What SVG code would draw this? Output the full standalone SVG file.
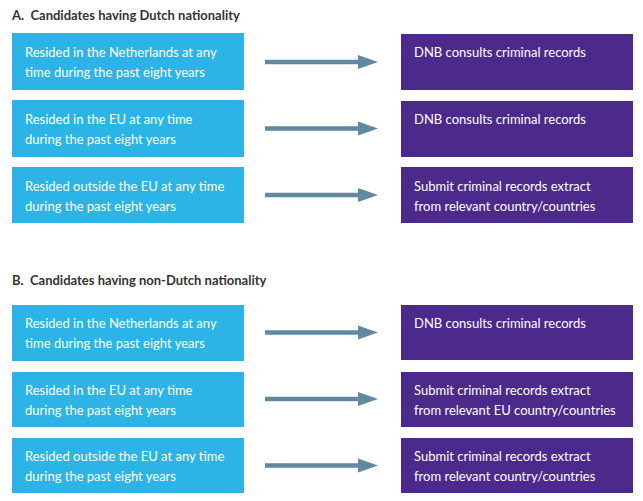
<svg xmlns="http://www.w3.org/2000/svg" width="643" height="501" viewBox="0 0 643 501">
<defs>
<style>
.bg{fill:#ffffff}
.left{fill:#2cb4e6}
.right{fill:#4b2a8c}
.t{font-family:Lato,"Noto Sans","Liberation Sans",sans-serif;font-size:13px;fill:#ffffff}
.h{font-family:Lato,"Noto Sans","Liberation Sans",sans-serif;font-size:13px;font-weight:bold;fill:#333333}
.arr{fill:#6189a2}
</style>
<symbol id="arrow" overflow="visible">
<path class="arr" d="M0,-2.3 H93 V-7 L113,0 L93,7 V2.3 H0 Z"/>
</symbol>
</defs>
<rect class="bg" width="643" height="501"/>
<text class="h" x="12" y="19.5" xml:space="preserve">A.  Candidates having Dutch nationality</text>
<text class="h" x="12" y="284.5" xml:space="preserve">B.  Candidates having non-Dutch nationality</text>

<g id="a1"><rect class="left" x="12" y="33" width="232" height="57"/><text class="t" x="25" y="57">Resided in the Netherlands at any</text><text class="t" x="25" y="77">time during the past eight years</text></g>
<g id="a2"><rect class="left" x="12" y="100" width="232" height="57"/><text class="t" x="25" y="124">Resided in the EU at any time</text><text class="t" x="25" y="144">during the past eight years</text></g>
<g id="a3"><rect class="left" x="12" y="167" width="232" height="56"/><text class="t" x="25" y="190.5">Resided outside the EU at any time</text><text class="t" x="25" y="210.5">during the past eight years</text></g>

<g id="ra1"><rect class="right" x="401" y="34" width="232" height="56"/><text class="t" x="414" y="57">DNB consults criminal records</text></g>
<g id="ra2"><rect class="right" x="401" y="101" width="232" height="56"/><text class="t" x="414" y="124">DNB consults criminal records</text></g>
<g id="ra3"><rect class="right" x="401" y="167" width="232" height="56"/><text class="t" x="414" y="190.5">Submit criminal records extract</text><text class="t" x="414" y="210.5">from relevant country/countries</text></g>

<g id="b1"><rect class="left" x="12" y="305" width="232" height="56"/><text class="t" x="25" y="328">Resided in the Netherlands at any</text><text class="t" x="25" y="348">time during the past eight years</text></g>
<g id="b2"><rect class="left" x="12" y="372" width="232" height="55"/><text class="t" x="25" y="394.5">Resided in the EU at any time</text><text class="t" x="25" y="414.5">during the past eight years</text></g>
<g id="b3"><rect class="left" x="12" y="438" width="232" height="55"/><text class="t" x="25" y="461">Resided outside the EU at any time</text><text class="t" x="25" y="481">during the past eight years</text></g>

<g id="rb1"><rect class="right" x="401" y="305" width="232" height="55"/><text class="t" x="414" y="328">DNB consults criminal records</text></g>
<g id="rb2"><rect class="right" x="401" y="372" width="232" height="55"/><text class="t" x="414" y="394.5">Submit criminal records extract</text><text class="t" x="414" y="414.5">from relevant EU country/countries</text></g>
<g id="rb3"><rect class="right" x="401" y="438" width="232" height="55"/><text class="t" x="414" y="461">Submit criminal records extract</text><text class="t" x="414" y="481">from relevant country/countries</text></g>

<g id="connectors">
<use href="#arrow" x="265" y="62"/>
<use href="#arrow" x="265" y="128.5"/>
<use href="#arrow" x="265" y="195"/>
<use href="#arrow" x="265" y="332.5"/>
<use href="#arrow" x="265" y="399"/>
<use href="#arrow" x="265" y="465.5"/>
</g>
</svg>
